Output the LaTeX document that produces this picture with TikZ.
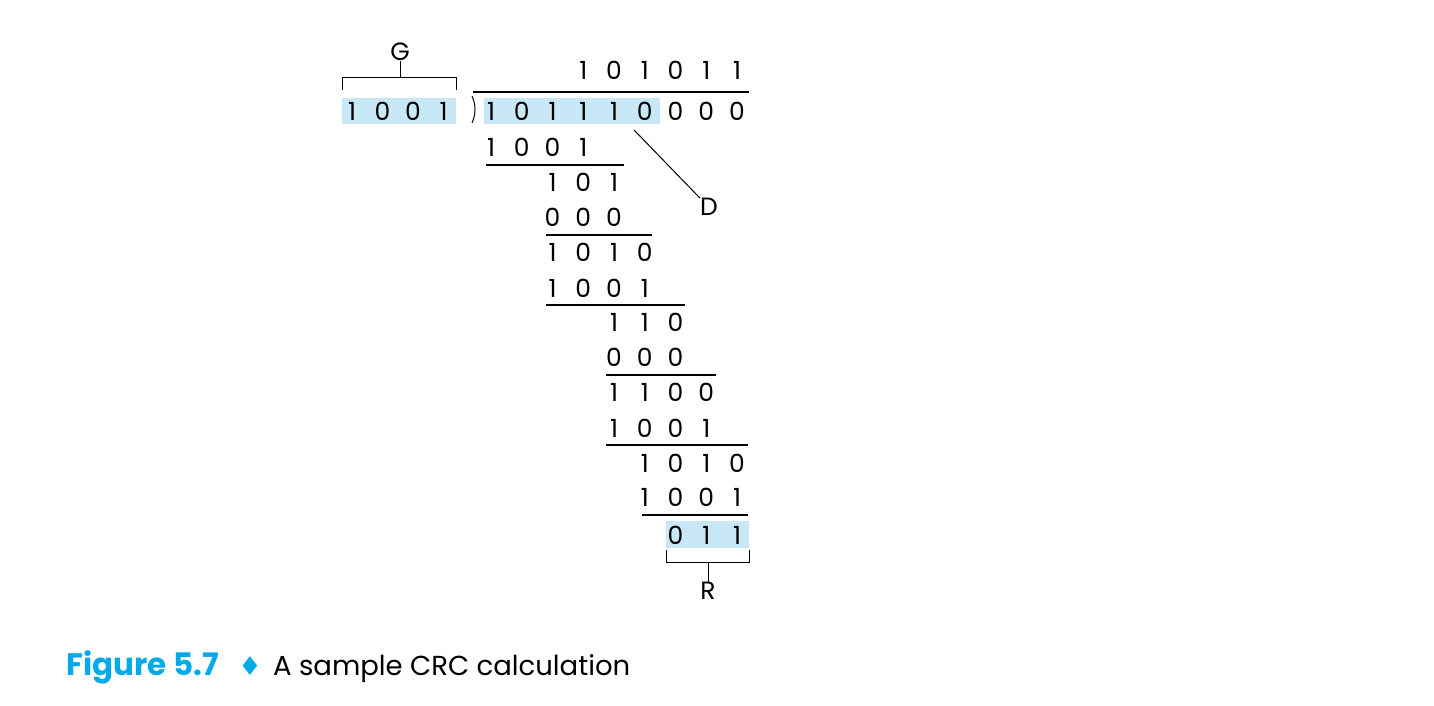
\documentclass[tikz,border=0pt]{standalone}
\usepackage{fontspec}
\setmainfont{Poppins}
\newfontfamily\symfont{DejaVu Sans}
\definecolor{hl}{HTML}{C8E8F8}
\definecolor{capc}{HTML}{00A9E8}
\newcommand\crow[4]{%
  \foreach \d [count=\i from 0] in {#4} {
    \node[dig] (#1-\i) at ({491+30.75*(#3+\i)}, #2) {\d};
  }}
\begin{document}
\begin{tikzpicture}[x=1pt,y=-1pt,
  dig/.style={inner sep=0pt,font=\fontsize{25}{29}\selectfont},
  rule/.style={line width=1.4pt},
  lead/.style={line width=1pt}]
\useasboundingbox (0,0) rectangle (1434,706);
% highlights
\fill[hl] (342,98) rectangle (456,124);
\fill[hl] (484,98) rectangle (660,124);
\fill[hl] (666,521) rectangle (749,548);
% divisor G
\foreach \d [count=\i from 0] in {1,0,0,1} {
  \node[dig] (g-\i) at ({352+30.5*\i},111) {\d};
}
\node[dig] (G) at (400,52) {G};
\draw[lead] (342,90) -- (342,78) -- (456,78) -- (456,90);
\draw[lead] (400,78) -- (G.south);
% quotient
\crow{q}{70}{3}{1,0,1,0,1,1}
% division bracket
\draw[rule] (473,92) -- (749,92);
\draw[lead] (472,96) .. controls (476,105) and (476,114) .. (472,123);
% rows
\crow{r1}{111}{0}{1,0,1,1,1,0,0,0,0}
\crow{r2}{147}{0}{1,0,0,1}
\draw[rule] (486,165) -- (624,165);
\crow{r3}{182}{2}{1,0,1}
\crow{r4}{217}{2}{0,0,0}
\draw[rule] (546,235) -- (652,235);
\crow{r5}{252}{2}{1,0,1,0}
\crow{r6}{288}{2}{1,0,0,1}
\draw[rule] (546,305) -- (685,305);
\crow{r7}{322}{4}{1,1,0}
\crow{r8}{357}{4}{0,0,0}
\draw[rule] (606,375) -- (716,375);
\crow{r9}{392}{4}{1,1,0,0}
\crow{r10}{428}{4}{1,0,0,1}
\draw[rule] (606,445) -- (748,445);
\crow{r11}{463}{5}{1,0,1,0}
\crow{r12}{497}{5}{1,0,0,1}
\draw[rule] (642,515) -- (748,515);
\crow{r13}{535}{6}{0,1,1}
% D label
\node[dig] (D) at (709,207) {D};
\coordinate (dstart) at (634,130);
\draw[lead] (dstart) -- (D.north west);
% R label
\node[dig] (R) at (708,591) {R};
\draw[lead] (666,550) -- (666,562) -- (749,562) -- (749,550);
\draw[lead] (708,562) -- (R.north);
% caption
\node[anchor=base west,inner sep=0pt,font=\fontsize{31}{34}\selectfont\bfseries,text=capc] (fig) at (66,675) {Figure 5.7};
\node[inner sep=0pt,font=\symfont\fontsize{26}{30}\selectfont,text=capc] (dia) at (250,666) {♦};
\node[anchor=base west,inner sep=0pt,font=\fontsize{27.5}{32}\selectfont] (captext) at (273,675) {A sample CRC calculation};
\end{tikzpicture}
\end{document}
